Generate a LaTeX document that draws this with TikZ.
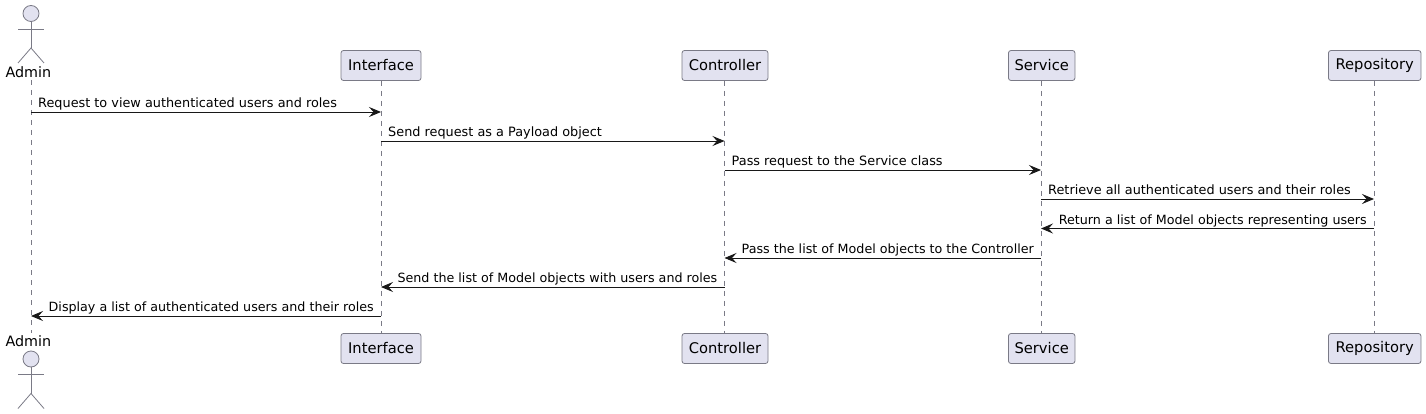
\documentclass[tikz,border=0pt]{standalone}
\usepackage{fontspec}
\setmainfont{DejaVu Sans}
\usetikzlibrary{arrows.meta}
\definecolor{partfill}{HTML}{E2E2F0}
\definecolor{partline}{HTML}{7A7A86}
\definecolor{ink}{HTML}{181818}
\tikzset{
  part/.style={draw=partline,fill=partfill,line width=0.8pt,rounded corners=2.5pt,minimum height=30pt,inner sep=0pt,text=black,font=\fontsize{14.7}{16}\selectfont},
  lifeline/.style={draw=partline,line width=0.7pt,dash pattern=on 5pt off 5pt},
  msg/.style={draw=ink,line width=0.9pt,-{Stealth[length=12pt,width=10pt,inset=4.5pt,fill=ink]}},
  msglabel/.style={text=black,inner sep=0pt},
  msgrlabel/.style={msglabel,font=\fontsize{12.84}{15}\selectfont},
  msgllabel/.style={msglabel,font=\fontsize{12.7}{15}\selectfont},
  actorhead/.style={circle,draw=partline,fill=partfill,line width=0.8pt,minimum size=16pt,inner sep=0pt},
  actorlimb/.style={draw=partline,line width=0.8pt},
  actorname/.style={font=\fontsize{14.3}{16}\selectfont,inner sep=0pt,text=black,fill=white}
}
\begin{document}
\begin{tikzpicture}[x=1pt,y=-1pt]
\useasboundingbox (0,0) rectangle (1426,414);
\fill[white] (0,0) rectangle (1426,414);
\coordinate (at) at (31,80);
\coordinate (ab) at (31,333);
\node[part,minimum width=80pt] (it) at (381,65.5) {Interface};
\node[part,minimum width=86pt] (ct) at (725,65.5) {Controller};
\node[part,minimum width=66.5pt] (st) at (1041.7,65.5) {Service};
\node[part,minimum width=92.5pt] (rt) at (1374.7,65.5) {Repository};
\node[part,minimum width=80pt] (ib) at (381,348.5) {Interface};
\node[part,minimum width=86pt] (cb) at (725,348.5) {Controller};
\node[part,minimum width=66.5pt] (sb) at (1041.7,348.5) {Service};
\node[part,minimum width=92.5pt] (rb) at (1374.7,348.5) {Repository};
\draw[lifeline] (at) -- (ab);
\coordinate (ix) at (381,0);
\coordinate (cx) at (724.5,0);
\coordinate (sx) at (1041,0);
\coordinate (rx) at (1374,0);
\draw[lifeline] (ix |- it.south) -- (ix |- ib.north);
\draw[lifeline] (cx |- ct.south) -- (cx |- cb.north);
\draw[lifeline] (sx |- st.south) -- (sx |- sb.north);
\draw[lifeline] (rx |- rt.south) -- (rx |- rb.north);
\node[actorhead] (ah1) at (31,13.5) {};
\coordinate (hip1) at (31,48);
\draw[actorlimb] (ah1.south) -- (hip1);
\draw[actorlimb] (18,29) -- (44,29);
\draw[actorlimb] (18,63) -- (hip1) -- (44,63);
\node[actorname,anchor=base] (an1) at (28.3,77.5) {Admin};
\node[actorhead] (ah2) at (31,359) {};
\coordinate (hip2) at (31,393.5);
\draw[actorlimb] (ah2.south) -- (hip2);
\draw[actorlimb] (18,374.5) -- (44,374.5);
\draw[actorlimb] (18,408.5) -- (hip2) -- (44,408.5);
\node[actorname,anchor=base] (an2) at (28.3,346) {Admin};
\newcommand{\msgright}[4]{%
  \coordinate (p) at (#1 |- 0,#3); \coordinate (q) at (#2 |- 0,#3);
  \draw[msg] (p) -- (q);
  \node[msgrlabel,anchor=base west] at ([xshift=7pt,yshift=4.2pt]p) {#4};}
\newcommand{\msgleft}[4]{%
  \coordinate (p) at (#1 |- 0,#3); \coordinate (q) at (#2 |- 0,#3);
  \draw[msg] (p) -- (q);
  \node[msgllabel,anchor=base east] at ([xshift=-7pt,yshift=4.2pt]p) {#4};}
\msgright{at}{ix}{112}{Request to view authenticated users and roles}
\msgright{ix}{cx}{141}{Send request as a Payload object}
\msgright{cx}{sx}{170}{Pass request to the Service class}
\msgright{sx}{rx}{199}{Retrieve all authenticated users and their roles}
\msgleft{rx}{sx}{228.5}{Return a list of Model objects representing users}
\msgleft{sx}{cx}{258}{Pass the list of Model objects to the Controller}
\msgleft{cx}{ix}{287}{Send the list of Model objects with users and roles}
\msgleft{ix}{at}{316}{Display a list of authenticated users and their roles}
\end{tikzpicture}
\end{document}
